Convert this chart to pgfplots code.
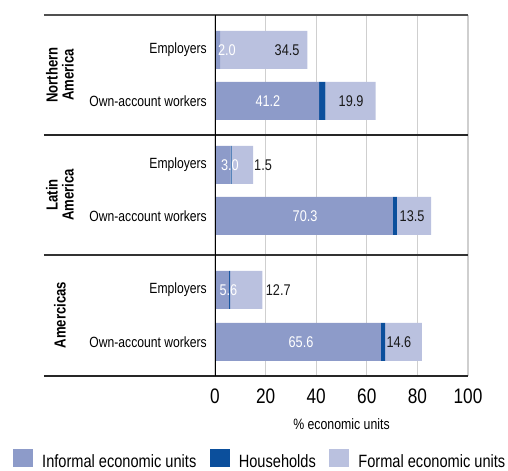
\documentclass[border=0pt]{standalone}
\usepackage{fontspec}
\setmainfont{Liberation Sans}[FakeStretch=0.82]
\usepackage{pgfplots}
\pgfplotsset{compat=1.18}
\definecolor{informal}{HTML}{8D9BC9}
\definecolor{household}{HTML}{0B4F9C}
\definecolor{formal}{HTML}{BAC1DF}
\definecolor{gridgray}{HTML}{CFCFCF}
\definecolor{topgray}{HTML}{505050}
\newcommand\fs[1]{\fontsize{#1}{#1}\selectfont}
\begin{document}
\begin{tikzpicture}
\useasboundingbox (0,0) rectangle (508bp,471bp);
\begin{axis}[
    at={(215bp,95bp)}, anchor=south west,
    scale only axis, width=253bp, height=361bp,
    xbar stacked, bar width=38,
    xmin=0, xmax=100, ymin=0, ymax=361,
    xtick={0,20,...,100},
    ytick={34,86,160,211,275,326},
    yticklabels={Own-account workers,Employers,Own-account workers,Employers,Own-account workers,Employers},
    major tick length=0pt,
    axis line style={draw=none},
    xmajorgrids,
    grid style={draw=gridgray, line width=1.1bp},
    /pgf/number format/assume math mode=true,
    xticklabel style={font=\fs{21bp}, inner sep=0pt, yshift=-13bp},
    yticklabel style={font=\fs{14.8bp}, inner sep=0pt, xshift=-8bp},
    xlabel={\% economic units},
    xlabel style={font=\fs{15bp}, at={(axis description cs:0.5,0)}, anchor=center, yshift=-48bp},
    clip=false,
    legend columns=3,
    legend style={at={(axis description cs:-0.7984,-0.231)}, anchor=west, draw=none, fill=none,
        inner sep=0pt, nodes={inner sep=0pt}, font=\fs{17.8bp},
        /tikz/every odd column/.append style={column sep=9bp},
        /tikz/every even column/.append style={column sep=13.5bp}},
    legend image code/.code={\fill[#1] (0bp,-5bp) rectangle (20bp,13bp);},
]
\addplot[fill=informal, draw=none] coordinates {(65.6,34) (5.6,86) (70.3,160) (6.2,211) (41.2,275) (2.0,326)};
\addplot[fill=household, draw=none] coordinates {(1.6,34) (0.4,86) (1.6,160) (0.4,211) (2.4,275) (0,326)};
\addplot[fill=formal, draw=none] coordinates {(14.6,34) (12.7,86) (13.5,160) (8.5,211) (19.9,275) (34.5,326)};
\legend{Informal economic units, Households, Formal economic units}
\end{axis}

% same units as the axis: 2.53bp per percent, 1bp per y unit
\begin{scope}[shift={(215bp,95bp)}, x=2.53bp, y=1bp]
% frame lines
\draw[topgray, line width=1.2bp] (-67.6,361) -- (100,361);
\draw[black!85, line width=1.2bp] (-67.6,241) -- (100,241);
\draw[black!80, line width=1.2bp] (-67.6,121) -- (100,121);
\draw[black!85, line width=1.2bp] (-67.6,0) -- (100,0);
\draw[black, line width=1bp] (0,0) -- (0,361);

% group labels
\node[rotate=90, align=center, font=\fs{16bp}\bfseries] at (-61.3,301) {Northern\\America};
\node[rotate=90, align=center, font=\fs{16bp}\bfseries] at (-61.3,181) {Latin\\America};
\node[rotate=90, align=center, font=\fs{16bp}\bfseries] at (-61.3,61) {Amercicas};

% value labels
\tikzset{wl/.style={font=\fs{15.5bp}, text=white, inner sep=0pt}, bl/.style={font=\fs{15.5bp}, text=black!90, inner sep=0pt}}
\node[wl] at (4.7,326) {2.0};
\node[bl] at (28.5,326) {34.5};
\node[wl] at (20.9,275) {41.2};
\node[bl] at (53.8,275) {19.9};
\node[wl] at (5.9,211) {3.0};
\node[bl] at (19.0,211) {1.5};
\node[wl] at (35.6,160) {70.3};
\node[bl] at (77.9,160) {13.5};
\node[wl] at (5.3,86) {5.6};
\node[bl] at (25.0,86) {12.7};
\node[wl] at (34.0,34) {65.6};
\node[bl] at (72.7,34) {14.6};
\end{scope}
\end{tikzpicture}
\end{document}
